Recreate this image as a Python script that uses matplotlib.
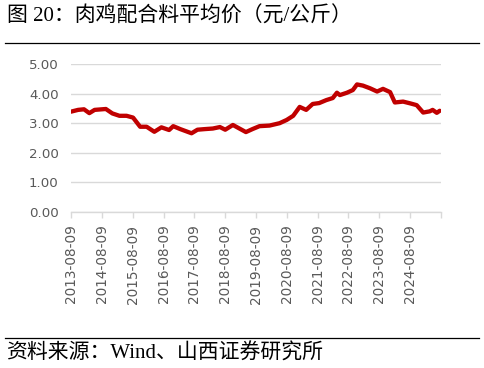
import matplotlib
matplotlib.use("Agg")
import matplotlib.pyplot as plt
import pandas as pd

plt.rcParams['font.family'] = ['DejaVu Sans', 'Noto Sans CJK SC']

TITLE = "图 20：肉鸡配合料平均价（元/公斤）"
SOURCE = "资料来源：Wind、山西证券研究所"

dates = ["2013-08-09", "2013-11-01", "2014-01-10", "2014-03-14", "2014-05-16",
         "2014-09-26", "2014-12-12", "2015-03-06", "2015-05-29", "2015-08-14",
         "2015-11-06", "2016-01-22", "2016-04-22", "2016-07-15", "2016-10-14",
         "2016-12-02", "2017-02-24", "2017-07-07", "2017-09-15", "2017-12-08",
         "2018-03-16", "2018-06-08", "2018-08-10", "2018-11-09", "2019-01-25",
         "2019-04-12", "2019-06-28", "2019-09-20", "2020-01-17", "2020-05-15",
         "2020-08-07", "2020-10-23", "2021-01-08", "2021-03-26", "2021-06-11",
         "2021-08-27", "2021-11-19", "2022-02-04", "2022-03-25", "2022-04-29",
         "2022-07-22", "2022-09-30", "2022-11-18", "2023-01-27", "2023-04-21",
         "2023-07-14", "2023-09-22", "2023-12-15", "2024-02-09", "2024-05-17",
         "2024-08-09", "2024-10-25", "2025-01-10", "2025-03-28", "2025-05-02",
         "2025-06-20", "2025-07-25"]
values = [3.39, 3.45, 3.47, 3.34, 3.45,
          3.48, 3.33, 3.25, 3.25, 3.19,
          2.88, 2.88, 2.71, 2.86, 2.77,
          2.90, 2.80, 2.66, 2.78, 2.80,
          2.82, 2.87, 2.78, 2.94, 2.82,
          2.70, 2.80, 2.90, 2.92, 3.00,
          3.11, 3.25, 3.55, 3.45, 3.65,
          3.68, 3.78, 3.85, 4.03, 3.95,
          4.03, 4.12, 4.31, 4.27, 4.18,
          4.07, 4.16, 4.05, 3.70, 3.73,
          3.67, 3.61, 3.36, 3.40, 3.45,
          3.35, 3.42]

tick_dates = ["2013-08-09", "2014-08-09", "2015-08-09", "2016-08-09", "2017-08-09",
              "2018-08-09", "2019-08-09", "2020-08-09", "2021-08-09", "2022-08-09",
              "2023-08-09", "2024-08-09", "2025-08-09"]
tick_labels = ["2013-08-09", "2014-08-09", "2015-08-09", "2016-08-09", "2017-08-09",
               "2018-08-09", "2019-08-09", "2020-08-09", "2021-08-09", "2022-08-09",
               "2023-08-09", "2024-08-09", ""]
y_ticks = [0, 1, 2, 3, 4, 5]

fig = plt.figure(figsize=(4.85, 3.68), dpi=100)
ax = fig.add_axes([71/485, 1-212/368, 370/485, 148/368])

x = pd.to_datetime(dates)
ax.plot(x, values, color="#C00000", linewidth=3.1, solid_joinstyle="round",
        solid_capstyle="round")

ax.set_xlim(pd.Timestamp(tick_dates[0]), pd.Timestamp(tick_dates[-1]))
ax.set_ylim(0, 5)
ax.set_yticks(y_ticks)
ax.set_yticklabels([f"{v:.2f}" for v in y_ticks])
ax.set_xticks(pd.to_datetime(tick_dates))
ax.set_xticklabels(tick_labels, rotation=90)

ax.grid(axis="y", color="#D9D9D9", linewidth=1)
ax.set_axisbelow(True)
for s in ["top", "right", "left"]:
    ax.spines[s].set_visible(False)
ax.spines["bottom"].set_color("#D9D9D9")
ax.spines["bottom"].set_linewidth(1)
ax.tick_params(axis="y", length=0, pad=9, labelsize=9.6, labelcolor="#595959")
ax.tick_params(axis="x", length=4, width=1, color="#D9D9D9", pad=5,
               labelsize=9.8, labelcolor="#595959")

# title, rules and source
fig.text(7/485, 1-17/368, TITLE, fontsize=15, va="center", ha="left",
         family=["Liberation Serif", "Noto Sans CJK SC"])
fig.add_artist(plt.Line2D([5/485, 479/485], [1-42.7/368, 1-42.7/368],
                          color="black", linewidth=0.9))
fig.add_artist(plt.Line2D([5/485, 479/485], [1-338/368, 1-338/368],
                          color="black", linewidth=0.9))
fig.text(6/485, 1-353.5/368, SOURCE, fontsize=15, va="center", ha="left",
         family=["Liberation Serif", "Noto Sans CJK SC"])

fig.savefig("out.png", dpi=100)
